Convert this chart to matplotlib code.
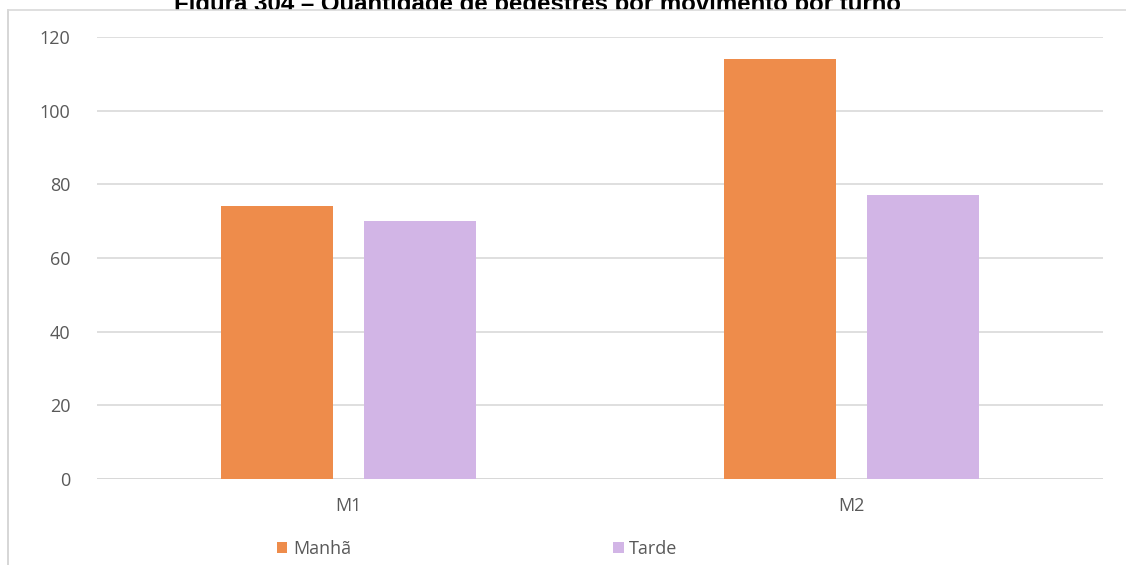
import numpy as np
import matplotlib.pyplot as plt
from matplotlib.patches import Rectangle

categorias = ["M1", "M2"]
manha = [74, 114]
tarde = [70, 77]
series = ["Manhã", "Tarde"]
yticks = [0, 20, 40, 60, 80, 100, 120]

cor_manha = "#EE8C4B"
cor_tarde = "#D2B5E6"
cinza = "#595959"

plt.rcParams["font.family"] = ["Open Sans", "DejaVu Sans"]

fig = plt.figure(figsize=(11.26, 5.65), dpi=100)
ax = fig.add_axes([97 / 1126, 1 - 479 / 565, (1103 - 97) / 1126, (479 - 37) / 565])

x = np.arange(len(categorias))
w = 0.223
off = w / 2 + 0.03
ax.bar(x - off, manha, w, color=cor_manha, label=series[0], zorder=3)
ax.bar(x + off, tarde, w, color=cor_tarde, label=series[1], zorder=3)

ax.set_xlim(-0.5, 1.5)
ax.set_ylim(0, 120)
ax.set_yticks(yticks)
ax.set_xticks(x, categorias)
ax.grid(axis="y", color="#d9d9d9", linewidth=1.2, zorder=0)
for s in ax.spines.values():
    s.set_visible(False)
ax.tick_params(length=0, colors=cinza, labelsize=13)
ax.tick_params(axis="y", pad=19)
ax.tick_params(axis="x", pad=13)
ax.axhline(0, color="#d0d0d0", linewidth=1.2, zorder=1)

# título cortado pela moldura, como na imagem original
fig.text(538 / 1126, 1 - 11 / 565, "Figura 304 – Quantidade de pedestres por movimento por turno",
         ha="center", va="baseline", fontsize=17.3, fontweight="bold",
         family=["Liberation Sans", "DejaVu Sans"], color="black", zorder=1)
fig.add_artist(Rectangle((0, 1 - 30 / 565), 1, 20 / 565, transform=fig.transFigure,
                         facecolor="white", edgecolor="none", zorder=2))

# moldura cinza do gráfico
fig.add_artist(plt.Line2D([8 / 1126, 8 / 1126], [0, 1 - 10 / 565], color="#d0d0d0", lw=1.2, zorder=3))
fig.add_artist(plt.Line2D([8 / 1126, 1], [1 - 10 / 565, 1 - 10 / 565], color="#d9d9d9", lw=1.2, zorder=3))

leg = fig.legend(loc="center", bbox_to_anchor=(477 / 1126, 1 - 549 / 565), ncol=2,
                 frameon=False, fontsize=13, handlelength=0.6, handleheight=0.6,
                 handletextpad=0.3, columnspacing=14.5)
for t in leg.get_texts():
    t.set_color(cinza)

fig.savefig("out.png", dpi=100)
